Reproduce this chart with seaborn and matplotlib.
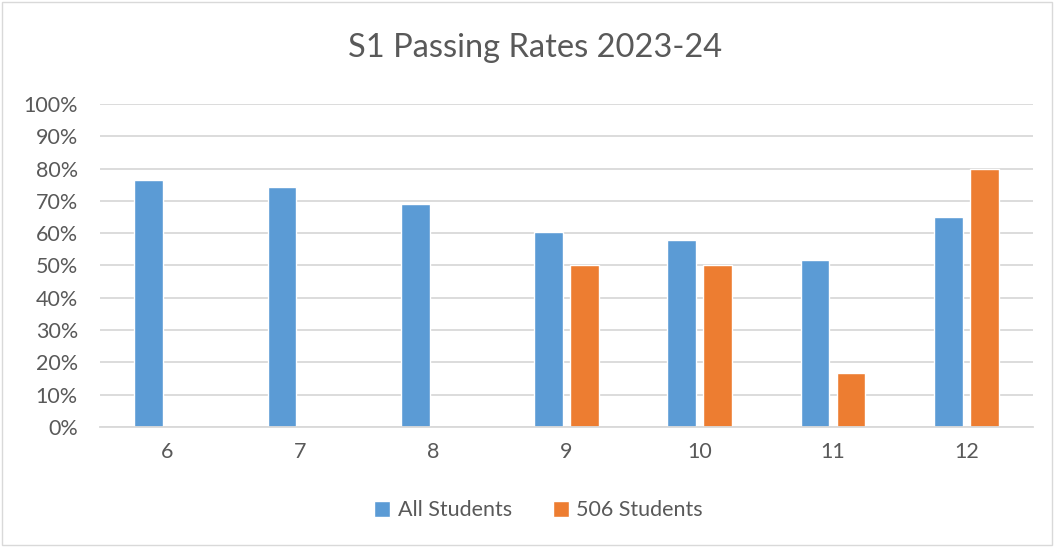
import matplotlib
matplotlib.use("Agg")
import matplotlib.pyplot as plt
import seaborn as sns
import pandas as pd
import numpy as np
from matplotlib.ticker import PercentFormatter
from matplotlib.patches import Rectangle

grades = ["6", "7", "8", "9", "10", "11", "12"]
all_students = [0.766, 0.743, 0.689, 0.605, 0.579, 0.518, 0.650]
students_506 = [np.nan, np.nan, np.nan, 0.50, 0.50, 0.167, 0.80]
series_names = ["All Students", "506 Students"]
colors = ["#5B9BD5", "#ED7D31"]

df = pd.DataFrame({
    "Grade": grades * 2,
    "Rate": all_students + students_506,
    "Series": [series_names[0]] * len(grades) + [series_names[1]] * len(grades),
})

sns.set_theme(style="white")
plt.rcParams["font.family"] = ["Lato", "DejaVu Sans"]
text_color = "#595959"

fig = plt.figure(figsize=(10.54, 5.47), dpi=100)
ax = fig.add_axes([0.095, 0.2194, 0.885, 0.5905])

sns.barplot(data=df, x="Grade", y="Rate", hue="Series", order=grades,
            hue_order=series_names, palette=colors, width=0.54, gap=0.2,
            saturation=1, ax=ax, legend=True)

ax.set_ylim(0, 1.0)
ax.set_yticks(np.arange(0, 1.01, 0.1))
ax.yaxis.set_major_formatter(PercentFormatter(1.0, decimals=0))
ax.grid(axis="y", color="#D9D9D9", linewidth=1.3)
ax.set_axisbelow(True)
for s in ["top", "right", "left"]:
    ax.spines[s].set_visible(False)
ax.spines["bottom"].set_color("#D9D9D9")
ax.spines["bottom"].set_linewidth(1.3)
ax.tick_params(axis="both", length=0, labelsize=15.5, colors=text_color)
ax.tick_params(axis="x", pad=11)
ax.tick_params(axis="y", pad=16)
ax.set_xlabel("")
ax.set_ylabel("")
ax.set_xlim(-0.5, 6.5)

fig.suptitle("S1 Passing Rates 2023-24", x=0.508, y=0.94, fontsize=23.5, color=text_color)

handles, labels = ax.get_legend_handles_labels()
ax.legend_.remove()
fig.legend(handles, labels, loc="center", bbox_to_anchor=(0.511, 0.067), ncol=2,
           frameon=False, fontsize=15.5, labelcolor=text_color, handlelength=0.75,
           handleheight=0.75, columnspacing=1.9, handletextpad=0.35)

fig.patches.append(Rectangle((0.002, 0.004), 0.996, 0.992, transform=fig.transFigure,
                             fill=False, edgecolor="#D9D9D9", linewidth=1))

fig.savefig("out.png", dpi=100, facecolor="white")
